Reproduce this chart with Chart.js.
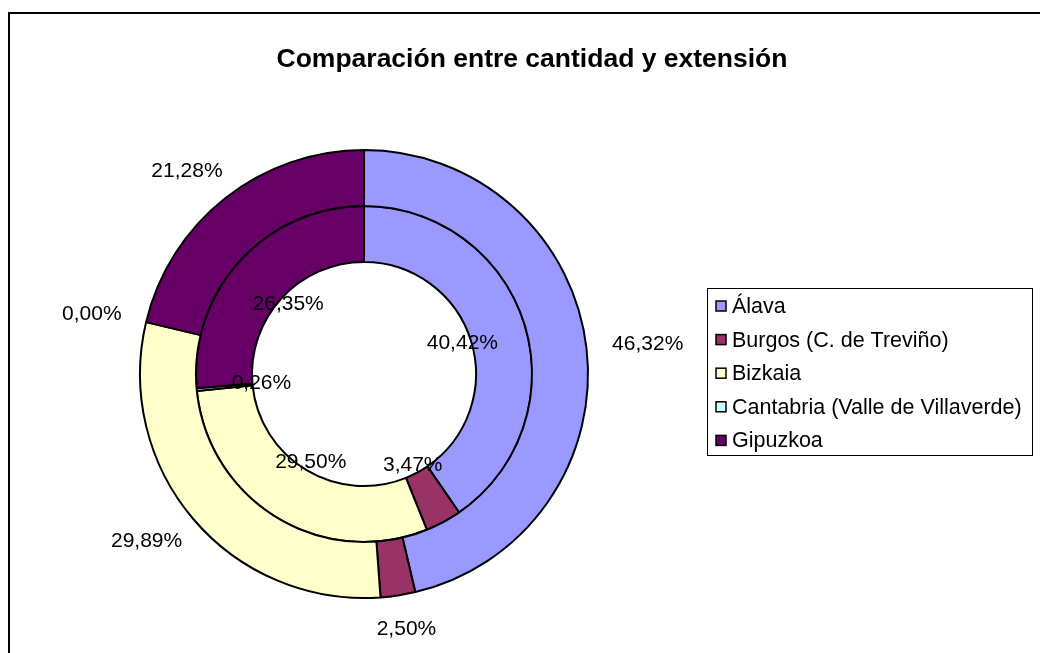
<!DOCTYPE html>
<html>
<head>
<meta charset="utf-8">
<style>
  html, body { margin: 0; padding: 0; background: #fff; overflow: hidden; }
  #frame {
    position: absolute; left: 8px; top: 12px;
    width: 1100px; height: 700px;
    border: 2px solid #000; box-sizing: border-box;
  }
  #wrap { position: absolute; left: 0; top: 0; width: 1040px; height: 653px; }
</style>
</head>
<body>
<div id="frame"></div>
<div id="wrap">
  <canvas id="donut"></canvas>
</div>

<script src="https://cdn.jsdelivr.net/npm/chart.js"></script>

<script>
  const categories = ['Álava', 'Burgos (C. de Treviño)', 'Bizkaia', 'Cantabria (Valle de Villaverde)', 'Gipuzkoa'];
  const outerValues = [46.32, 2.50, 29.89, 0.00, 21.28];
  const innerValues = [40.42, 3.47, 29.50, 0.26, 26.35];
  const colors = ['#9999FF', '#993366', '#FFFFCC', '#CCFFFF', '#660066'];
  const title = 'Comparación entre cantidad y extensión';

  const font = '"Liberation Sans", Arial, sans-serif';

  function fmt(v) {
    return v.toFixed(2).replace('.', ',') + '%';
  }

  // title, percentage labels and boxed legend, drawn the Excel way
  const excelBits = {
    id: 'excelBits',
    afterDraw(chart) {
      const ctx = chart.ctx;
      ctx.save();

      ctx.fillStyle = '#000';
      ctx.font = 'bold 26.5px ' + font;
      ctx.textAlign = 'center';
      ctx.textBaseline = 'middle';
      ctx.fillText(title, 532, 60);

      ctx.font = '21px ' + font;
      chart.data.datasets.forEach((ds, di) => {
        const meta = chart.getDatasetMeta(di);
        meta.data.forEach((arc, i) => {
          const p = arc.getProps(['x', 'y', 'startAngle', 'endAngle', 'innerRadius', 'outerRadius'], true);
          const a = (p.startAngle + p.endAngle) / 2;
          const cx = Math.cos(a), cy = Math.sin(a);
          const txt = fmt(ds.data[i]);
          const w = ctx.measureText(txt).width;
          let x, y;
          if (di === 0) {
            const r = p.outerRadius + 26;
            x = p.x + cx * r + cx * w / 2;
            y = p.y + cy * r + cy * 8;
          } else {
            const r = p.innerRadius - 9;
            x = p.x + cx * r;
            y = p.y + cy * r;
          }
          ctx.fillText(txt, x, y);
        });
      });

      // legend box
      const lx = 707, ly = 288, lw = 325, lh = 167;
      ctx.fillStyle = '#fff';
      ctx.fillRect(lx, ly, lw, lh);
      ctx.strokeStyle = '#000';
      ctx.lineWidth = 1;
      ctx.strokeRect(lx + 0.5, ly + 0.5, lw, lh);
      ctx.textAlign = 'left';
      ctx.font = '21.5px ' + font;
      categories.forEach((c, i) => {
        const yy = 306 + i * 33.6;
        ctx.fillStyle = colors[i];
        ctx.fillRect(716, yy - 5, 10, 10);
        ctx.lineWidth = 1.5;
        ctx.strokeRect(716, yy - 5, 10, 10);
        ctx.fillStyle = '#000';
        ctx.fillText(c, 732, yy + 1);
      });
      ctx.restore();
    }
  };

  new Chart(document.getElementById('donut'), {
    type: 'doughnut',
    data: {
      labels: categories,
      datasets: [
        { data: outerValues, backgroundColor: colors, borderColor: '#000', borderWidth: 2 },
        { data: innerValues, backgroundColor: colors, borderColor: '#000', borderWidth: 2 }
      ]
    },
    options: {
      responsive: true,
      maintainAspectRatio: false,
      animation: false,
      cutout: '50%',
      layout: { padding: { left: 139, right: 451, top: 149, bottom: 54 } },
      plugins: {
        legend: { display: false },
        tooltip: { enabled: false }
      }
    },
    plugins: [excelBits]
  });
</script>
</body>
</html>
